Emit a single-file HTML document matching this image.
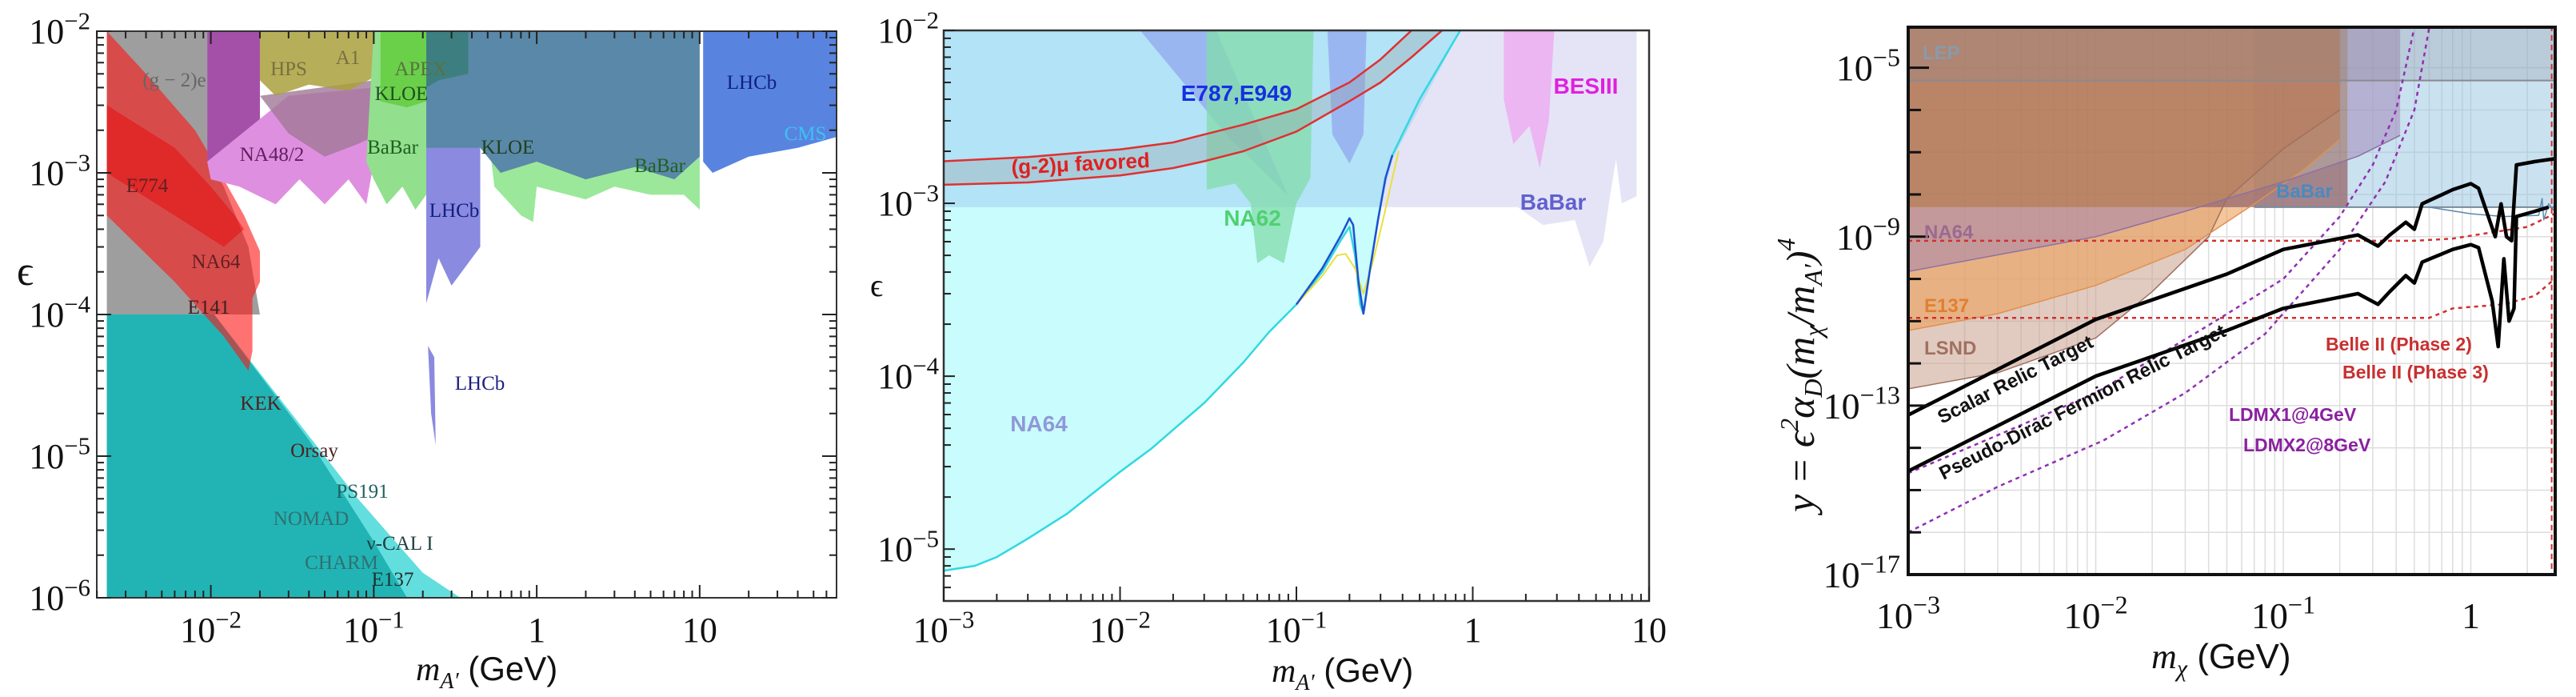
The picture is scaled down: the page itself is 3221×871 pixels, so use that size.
<!DOCTYPE html>
<html><head><meta charset="utf-8">
<style>
html,body{margin:0;padding:0;background:#fff;}
svg{display:block;}
.serif{font-family:"Liberation Serif",serif;}
.sans{font-family:"Liberation Sans",sans-serif;}
</style></head>
<body>
<svg id="fig" width="3221" height="871" viewBox="0 0 3221 871" xmlns="http://www.w3.org/2000/svg">
<g id="p1"></g>
<g id="p2"></g>
<g id="p3"></g>
</svg>
<script>
// ---------- Panel 1 data (mass GeV, epsilon) ----------
const p1Gray = [[0.0023,1e-2],[0.0095,1e-2],[0.0095,1.3e-3],[0.012,8e-4],[0.017,3e-4],[0.02,1e-4],[0.0023,1e-4]];
const p1Teal = [[0.0023,1e-4],[0.0105,1e-4],[0.04,1.3e-5],[0.1,2.5e-6],[0.16,1e-6],[0.0023,1e-6]];
const p1Cyan = [[0.0023,1e-4],[0.0105,1e-4],[0.08,5e-6],[0.2,1.5e-6],[0.34,1e-6],[0.0023,1e-6]];
const p1Red = [[0.0023,1e-2],[0.004,5e-3],[0.008,2e-3],[0.012,9e-4],[0.016,5e-4],[0.02,2.8e-4],[0.02,1.7e-4],[0.018,1.3e-4],[0.018,5.5e-5],[0.017,4e-5],[0.012,7e-5],[0.006,1.7e-4],[0.0023,5e-4]];
const p1RedDark = [[0.0023,3e-3],[0.006,1.5e-3],[0.01,8e-4],[0.014,5e-4],[0.016,4e-4],[0.012,3e-4],[0.006,5e-4],[0.0023,1e-3]];
const p1Purple = [[0.0095,1e-2],[0.02,1e-2],[0.02,2e-3],[0.0095,1.2e-3]];
const p1Pink = [[0.0095,1.2e-3],[0.03,3.5e-3],[0.1,4e-3],[0.12,2e-3],[0.1,1.2e-3],[0.09,6e-4],[0.07,9e-4],[0.05,6e-4],[0.035,9e-4],[0.025,6e-4],[0.015,8e-4],[0.01,9e-4]];
const p1Mauve = [[0.02,3.5e-3],[0.1,4.5e-3],[0.12,2e-3],[0.08,1.6e-3],[0.05,1.3e-3],[0.03,1.9e-3]];
const p1Olive = [[0.02,1e-2],[0.11,1e-2],[0.11,5e-3],[0.07,3.8e-3],[0.04,4.2e-3],[0.025,3.5e-3],[0.02,4.5e-3]];
const p1Green = [[0.1,1e-2],[0.21,1e-2],[0.21,7e-4],[0.18,5.5e-4],[0.15,8e-4],[0.12,6e-4],[0.1,9e-4],[0.09,1.2e-3]];
const p1GreenDark = [[0.11,1e-2],[0.21,1e-2],[0.21,3.2e-3],[0.16,2.9e-3],[0.11,3.2e-3]];
const p1SteelA = [[0.21,1e-2],[10,1e-2],[10,1.3e-3],[7,9e-4],[4,1.1e-3],[2,9e-4],[1,1.2e-3],[0.6,1e-3],[0.45,1.5e-3],[0.21,1.4e-3]];
const p1GreenFringe = [[0.5,2e-3],[1,1.5e-3],[3,1.3e-3],[10,1.3e-3],[10,5.5e-4],[8,7e-4],[5,7e-4],[3,8e-4],[2,6.5e-4],[1,8e-4],[0.95,4.5e-4],[0.8,5e-4],[0.55,8e-4]];
const p1Lhcb = [[0.21,1.5e-3],[0.45,1.5e-3],[0.45,3e-4],[0.3,1.6e-4],[0.25,2.5e-4],[0.21,1.2e-4]];
const p1LhcbIsland = [[0.215,6e-5],[0.235,5e-5],[0.24,1.2e-5],[0.225,2e-5]];
const p1LhcbHi = [[10.5,1e-2],[70,1e-2],[70,1.8e-3],[40,1.5e-3],[20,1.3e-3],[12,1e-3],[10.5,1.2e-3]];
const p1KloeTeal = [[0.21,1e-2],[0.38,1e-2],[0.38,5e-3],[0.25,4.5e-3],[0.21,4e-3]];
// ---------- Panel 2 data ----------
const p2Na64 = [[1e-3,7.5e-6],[1.5e-3,8e-6],[2e-3,9e-6],[3e-3,1.15e-5],[5e-3,1.6e-5],[7e-3,2.1e-5],[1e-2,2.8e-5],[1.5e-2,3.8e-5],[2e-2,4.9e-5],[3e-2,7e-5],[5e-2,1.2e-4],[7e-2,1.8e-4],[0.1,2.6e-4],[0.14,4e-4],[0.18,6.2e-4],[0.2,7.3e-4],[0.215,5e-4],[0.23,2.6e-4],[0.24,2.3e-4],[0.26,4e-4],[0.29,8e-4],[0.32,1.4e-3],[0.35,1.9e-3],[0.5,4e-3],[0.85,1e-2],[1e-3,1e-2]];
const p2Lav = [[0.3,1e-2],[8.5,1e-2],[8.5,1.1e-3],[7,1e-3],[6.5,1.8e-3],[6,1.1e-3],[5.5,6e-4],[4.6,4.3e-4],[3.8,8e-4],[2.5,7.5e-4],[1.8,9.5e-4],[0.3,9.5e-4]];
const p2Blue = [[1e-3,1e-2],[0.85,1e-2],[0.35,1.8e-3],[0.3,9.5e-4],[1e-3,9.5e-4]];
const p2E787a = [[0.013,1e-2],[0.035,1e-2],[0.09,1.1e-3],[0.04,2.5e-3]];
const p2E787b = [[0.15,1e-2],[0.25,1e-2],[0.24,2.5e-3],[0.2,1.7e-3],[0.16,2.5e-3]];
const p2Na62 = [[0.031,1e-2],[0.125,1e-2],[0.12,1.4e-3],[0.1,1e-3],[0.085,4.5e-4],[0.07,5e-4],[0.06,4.5e-4],[0.055,1e-3],[0.045,1.3e-3],[0.031,1.2e-3]];
const p2Bes = [[1.5,1e-2],[2.9,1e-2],[2.7,3e-3],[2.4,1.6e-3],[2.1,2.8e-3],[1.9,2.5e-3],[1.7,2.2e-3],[1.5,4e-3]];
const p2G2Upper = [[1e-3,1.75e-3],[3e-3,1.85e-3],[1e-2,2.05e-3],[2e-2,2.25e-3],[3e-2,2.5e-3],[5e-2,2.85e-3],[0.1,3.5e-3],[0.2,5e-3],[0.3,6.8e-3],[0.45,1e-2]];
const p2G2Lower = [[1e-3,1.28e-3],[3e-3,1.32e-3],[1e-2,1.45e-3],[2e-2,1.6e-3],[3e-2,1.75e-3],[5e-2,2e-3],[0.1,2.6e-3],[0.2,3.9e-3],[0.3,5e-3],[0.45,7e-3],[0.67,1e-2]];
const p2CurveBlue = [[0.1,2.6e-4],[0.14,4.2e-4],[0.18,6.6e-4],[0.2,8.2e-4],[0.21,7.5e-4],[0.225,3.5e-4],[0.24,2.3e-4],[0.26,4e-4],[0.29,8e-4],[0.32,1.4e-3],[0.35,1.9e-3]];
const p2CurveYellow = [[0.1,2.6e-4],[0.14,3.8e-4],[0.17,5e-4],[0.19,5.1e-4],[0.215,4.2e-4],[0.24,3e-4],[0.27,4.5e-4],[0.31,8e-4],[0.35,1.4e-3],[0.38,2e-3]];
// ---------- Panel 3 data (m_chi GeV, y) ----------
const p3Brown = [[1e-3,9e-5],[0.22,9e-5],[0.22,5e-9],[1e-3,5e-9]];
const p3Na64 = [[1e-3,1.5e-10],[0.01,1e-9],[0.03,4e-9],[0.1,2e-8],[0.25,8e-8],[0.42,2.5e-7],[0.42,9e-5],[0.22,9e-5],[0.22,5e-9],[1e-3,5e-9]];
const p3E137 = [[1e-3,6e-12],[3e-3,1.5e-11],[0.01,7e-11],[0.03,5e-10],[0.07,6e-9],[0.13,4e-8],[0.2,2e-7],[0.2,9e-5],[1e-3,9e-5]];
const p3Lsnd = [[1e-3,2.5e-13],[3e-3,6e-13],[0.01,4e-12],[0.02,5e-11],[0.04,1e-9],[0.05,8e-9],[0.1,1.2e-7],[0.2,1e-6],[0.2,9e-5],[1e-3,9e-5]];
const p3Babar = [[0.07,5e-9],[2.8,5e-9],[2.8,9e-5],[0.07,9e-5]];
const p3BabarEdge = [[0.6,5e-9],[1,3.5e-9],[1.5,3e-9],[2.3,3.2e-9],[2.4,8e-9],[2.45,2.5e-9],[2.6,6e-9],[2.8,4e-9]];
const p3Scalar = [[1e-3,6e-14],[0.01,1.1e-11],[0.05,1.3e-10],[0.1,5e-10],[0.25,1.1e-9],[0.32,6e-10],[0.37,1.1e-9],[0.45,2.2e-9],[0.5,1.5e-9],[0.55,6e-9],[0.8,1.3e-8],[1,1.8e-8],[1.1,1.4e-8],[1.35,1e-9],[1.45,6e-9],[1.55,1e-9],[1.65,8e-10],[1.75,5e-8],[2.2,6e-8],[2.8,7e-8]];
const p3Dirac = [[1e-3,2.8e-15],[0.01,5e-13],[0.05,6e-12],[0.1,2e-11],[0.25,4.5e-11],[0.32,2.5e-11],[0.37,5e-11],[0.45,1.2e-10],[0.5,8e-11],[0.55,2.5e-10],[0.8,5e-10],[1,6.5e-10],[1.1,5.5e-10],[1.3,3e-11],[1.4,2.5e-12],[1.5,3e-10],[1.6,1e-11],[1.7,2e-11],[1.75,3e-9],[2.2,4e-9],[2.6,5e-9]];
const p3Belle2 = [[1e-3,8e-10],[0.5,8e-10],[0.8,9e-10],[1.2,1.2e-9],[2,1.7e-9],[2.8,3.5e-9]];
const p3Belle3 = [[1e-3,1.2e-11],[0.6,1.2e-11],[0.8,2e-11],[1.5,2.5e-11],[2.2,4e-11],[2.8,1e-10]];
const p3Ldmx1 = [[1e-3,2.5e-15],[3e-3,2e-14],[0.01,2e-13],[0.04,8e-12],[0.1,1e-10],[0.2,3e-9],[0.3,5e-8],[0.4,1e-6],[0.5,9e-5]];
const p3Ldmx2 = [[1e-3,1e-16],[3e-3,1.2e-15],[0.011,1.5e-14],[0.03,2e-13],[0.08,5e-12],[0.2,5e-10],[0.35,2e-8],[0.5,1e-6],[0.6,9e-5]];
// tick label arrays
const p1XTicks = [0.01,0.1,1,10];
const p1YTicks = [1e-2,1e-3,1e-4,1e-5,1e-6];
const p2XTicks = [1e-3,1e-2,1e-1,1,10];
const p2YTicks = [1e-2,1e-3,1e-4,1e-5];
const p3XTicks = [1e-3,1e-2,1e-1,1];
const p3YTicks = [1e-5,1e-9,1e-13,1e-17];

const NS="http://www.w3.org/2000/svg";
function mk(parent,tag,attrs){const e=document.createElementNS(NS,tag);for(const k in attrs)e.setAttribute(k,attrs[k]);parent.appendChild(e);return e;}
function scale(lx0,lx1,px0,px1,ly0,ly1,py0,py1){
  return {x:v=>px0+(Math.log10(v)-lx0)/(lx1-lx0)*(px1-px0), y:v=>py0+(Math.log10(v)-ly0)/(ly1-ly0)*(py1-py0), px0,px1,py0,py1};
}
const S1=scale(-2.7,1.84,121,1046,-6,-2,747,39);
const S2=scale(-3,1,1180,2062,-5.3,-2,751,38);
const S3=scale(-3,0.45,2386,3195,-17,-4.04,718,34);
function pts(S,arr){return arr.map(p=>S.x(p[0]).toFixed(1)+","+S.y(p[1]).toFixed(1)).join(" ");}
function poly(g,S,arr,fill,name){const e=mk(g,"polygon",{points:pts(S,arr),fill:fill});


return e;}
function line(g,S,arr,stroke,w,name,dash){const a={points:pts(S,arr),fill:"none",stroke:stroke,"stroke-width":w,"stroke-linejoin":"round"};if(dash)a["stroke-dasharray"]=dash;const e=mk(g,"polyline",a);


return e;}
function text(g,x,y,str,size,fill,cls,name,extra){const e=mk(g,"text",Object.assign({x:x,y:y,"font-size":size,fill:fill,class:cls},extra||{}));e.textContent=str;


return e;}
function powLabel(g,x,y,exp,size,anchor,name){
  const e=mk(g,"text",{x:x,y:y,"font-size":size,fill:"#111",class:"serif","text-anchor":anchor});
  
  
  if(exp===0){e.textContent="1";return e;}
  if(exp===1){e.textContent="10";return e;}
  const b=mk(e,"tspan",{});b.textContent="10";
  const s=mk(e,"tspan",{dy:-size*0.4,"font-size":size*0.7});s.textContent="\u2212"+(-exp);
  return e;
}
function frame(g,S){
  const clipId="c"+Math.round(S.px0);
  const cp=mk(g,"clipPath",{id:clipId});mk(cp,"rect",{x:S.px0,y:S.py1,width:S.px1-S.px0,height:S.py0-S.py1});
  return clipId;
}
function logTicks(g,S,axis,lo,hi,len,minLen,both){
  for(let d=Math.floor(lo);d<=Math.ceil(hi);d++){
    for(let m=1;m<10;m++){
      const v=m*Math.pow(10,d);const lv=Math.log10(v);
      if(lv<lo-1e-9||lv>hi+1e-9)continue;
      const L=m===1?len:minLen;
      if(axis==="x"){const x=S.x(v);
        mk(g,"line",{x1:x,y1:S.py0,x2:x,y2:S.py0-L,stroke:"#222","stroke-width":2});
        if(both)mk(g,"line",{x1:x,y1:S.py1,x2:x,y2:S.py1+L,stroke:"#222","stroke-width":2});
      }else{const y=S.y(v);
        mk(g,"line",{x1:S.px0,y1:y,x2:S.px0+L,y2:y,stroke:"#222","stroke-width":2});
        if(both)mk(g,"line",{x1:S.px1,y1:y,x2:S.px1-L,y2:y,stroke:"#222","stroke-width":2});
      }
    }
  }
}

// ================= PANEL 1 =================
(function(){
  const g=document.getElementById("p1");
  const cid=frame(g,S1);
  const r=mk(g,"g",{"clip-path":"url(#"+cid+")"});
  poly(r,S1,p1Cyan,"#63dede","beam-dump-light-region");
  poly(r,S1,p1Teal,"#22b4b4","beam-dump-region");
  poly(r,S1,p1Gray,"rgba(125,125,125,0.75)","g2e-region");
  poly(r,S1,p1Red,"rgba(255,20,20,0.6)","na64-e774-e141-region");
  poly(r,S1,p1RedDark,"rgba(235,0,0,0.45)","e774-core-region");
  poly(r,S1,p1Purple,"#a550a8","na48-dark-region");
  poly(r,S1,p1Pink,"#df8fe0","na48-region");
  poly(r,S1,p1Mauve,"rgba(160,120,150,0.8)","hps-lower-region");
  poly(r,S1,p1Olive,"rgba(170,160,60,0.85)","hps-a1-region");
  poly(r,S1,p1Green,"#92e08e","babar-low-region");
  poly(r,S1,p1GreenDark,"#6ad04a","kloe-region");
  poly(r,S1,p1GreenFringe,"#9be89b","babar-fringe-region");
  poly(r,S1,p1SteelA,"#5a88a8","babar-high-region");
  poly(r,S1,p1KloeTeal,"#3d7f80","apex-kloe-region");
  poly(r,S1,p1Lhcb,"#8a8ae0","lhcb-low-region");
  poly(r,S1,p1LhcbIsland,"#8a8ae0","lhcb-island-region");
  poly(r,S1,p1LhcbHi,"#5884e0","lhcb-high-region");
  mk(g,"rect",{x:S1.px0,y:S1.py1,width:S1.px1-S1.px0,height:S1.py0-S1.py1,fill:"none",stroke:"#333","stroke-width":2});
  logTicks(g,S1,"x",-2.7,1.84,16,9,true);
  logTicks(g,S1,"y",-6,-2,18,9,true);
  p1XTicks.forEach(v=>{const e=Math.round(Math.log10(v));powLabel(g,S1.x(v),802,e,44,"middle","x-tick-label");});
  p1YTicks.forEach(v=>{powLabel(g,S1.px0-8,S1.y(v)+15,Math.round(Math.log10(v)),44,"end","y-tick-label");});
  text(g,21,356,"\u03f5",52,"#111","serif","y-axis-title");
  const xl=text(g,520,850,"",42,"#111","sans","x-axis-title");
  const t1=mk(xl,"tspan",{"font-style":"italic","font-family":"Liberation Serif"});t1.textContent="m";
  const t2=mk(xl,"tspan",{"font-size":28,dy:10,"font-style":"italic","font-family":"Liberation Serif"});t2.textContent="A\u2032";
  const t3=mk(xl,"tspan",{dy:-10});t3.textContent=" (GeV)";
  const L=[["(g \u2212 2)e",218,108,"#666"],["HPS",361,94,"#777040"],["A1",435,80,"#777040"],["APEX",526,94,"#5a7040"],["KLOE",502,125,"#205020"],["NA48/2",340,201,"#602060"],["BaBar",491,192,"#206020"],["KLOE",635,192,"#204020"],["BaBar",825,215,"#206020"],["LHCb",940,111,"#102080"],["CMS",1007,175,"#40c0f0"],["E774",184,240,"#602020"],["LHCb",568,271,"#102080"],["NA64",270,335,"#602020"],["E141",261,392,"#402020"],["LHCb",600,487,"#202080"],["KEK",326,512,"#502020"],["Orsay",393,571,"#502020"],["PS191",453,622,"#206060"],["NOMAD",389,656,"#307070"],["\u03bd-CAL I",500,687,"#204040"],["CHARM",427,711,"#307070"],["E137",491,732,"#203030"]];
  L.forEach(l=>text(g,l[1],l[2],l[0],25,l[3],"serif","region-label-"+l[0].toLowerCase().replace(/[^a-z0-9]/g,""),{"text-anchor":"middle"}));
})();

// ================= PANEL 2 =================
(function(){
  const g=document.getElementById("p2");
  const cid=frame(g,S2);
  const r=mk(g,"g",{"clip-path":"url(#"+cid+")"});
  poly(r,S2,p2Lav,"#e4e4f6","babar-region");
  poly(r,S2,p2Na64,"#c8fcfd","na64-region");
  poly(r,S2,p2Blue,"rgba(160,205,240,0.55)","upper-band-region");
  poly(r,S2,p2Bes,"#ecb6f2","besiii-region");
  poly(r,S2,p2E787a,"#9ab6f0","e787-region");
  poly(r,S2,p2E787b,"#9ab6f0","e787-blob-region");
  poly(r,S2,p2Na62,"rgba(130,220,170,0.75)","na62-region");
  const band=p2G2Upper.concat(p2G2Lower.slice().reverse());
  poly(r,S2,band,"rgba(150,160,165,0.35)","g2mu-band");
  line(r,S2,p2G2Upper,"#e03030",2.5,"g2mu-upper-line");
  line(r,S2,p2G2Lower,"#e03030",2.5,"g2mu-lower-line");
  line(r,S2,p2Na64.slice(0,p2Na64.length-1),"#30d8e0",2.5,"na64-boundary-line");
  line(r,S2,p2CurveYellow,"#e8e040",2,"projection-yellow-line");
  line(r,S2,p2CurveBlue,"#2050d0",2.5,"projection-blue-line");
  mk(g,"rect",{x:S2.px0,y:S2.py1,width:S2.px1-S2.px0,height:S2.py0-S2.py1,fill:"none",stroke:"#333","stroke-width":2.5});
  logTicks(g,S2,"x",-3,1,18,9,false);
  logTicks(g,S2,"y",-5.3,-2,14,9,false);
  p2XTicks.forEach(v=>powLabel(g,S2.x(v),802,Math.round(Math.log10(v)),44,"middle","x-tick-label"));
  p2YTicks.forEach(v=>powLabel(g,S2.px0-6,S2.y(v)+15,Math.round(Math.log10(v)),44,"end","y-tick-label"));
  text(g,1088,370,"\u03f5",40,"#111","serif","y-axis-title");
  const xl=text(g,1590,852,"",42,"#111","sans","x-axis-title");
  const t1=mk(xl,"tspan",{"font-style":"italic","font-family":"Liberation Serif"});t1.textContent="m";
  const t2=mk(xl,"tspan",{"font-size":28,dy:10,"font-style":"italic","font-family":"Liberation Serif"});t2.textContent="A\u2032";
  const t3=mk(xl,"tspan",{dy:-10});t3.textContent=" (GeV)";
  text(g,1546,126,"E787,E949",28,"#1530e0","sans","e787-label",{"font-weight":"bold","text-anchor":"middle"});
  text(g,1983,117,"BESIII",28,"#e020e0","sans","besiii-label",{"font-weight":"bold","text-anchor":"middle"});
  text(g,1265,218,"(g-2)\u03bc favored",26,"#e02020","sans","g2mu-label",{"font-weight":"bold",transform:"rotate(-3 1265 218)"});
  text(g,1566,282,"NA62",28,"#50d070","sans","na62-label",{"font-weight":"bold","text-anchor":"middle"});
  text(g,1942,262,"BaBar",28,"#6060d0","sans","babar-label",{"font-weight":"bold","text-anchor":"middle"});
  text(g,1299,539,"NA64",28,"#9098d8","sans","na64-label",{"font-weight":"bold","text-anchor":"middle"});
})();

// ================= PANEL 3 =================
(function(){
  const g=document.getElementById("p3");
  const cid=frame(g,S3);
  const r=mk(g,"g",{"clip-path":"url(#"+cid+")"});
  mk(r,"rect",{x:S3.px0,y:S3.py1,width:S3.px1-S3.px0,height:S3.py0-S3.py1,fill:"#fff"});
  for(let d=-3;d<=0;d++)for(let m=1;m<10;m++){const v=m*Math.pow(10,d);if(Math.log10(v)>0.45)continue;const x=S3.x(v);mk(r,"line",{x1:x,y1:S3.py1,x2:x,y2:S3.py0,stroke:"#ddd","stroke-width":1.5});}
  for(let d=-17;d<=-5;d++){const y=S3.y(Math.pow(10,d));mk(r,"line",{x1:S3.px0,y1:y,x2:S3.px1,y2:y,stroke:"#ddd","stroke-width":1.5});}
  poly(r,S3,p3Babar,"rgba(150,195,225,0.5)","babar-region");
  poly(r,S3,p3Lsnd,"rgba(200,160,140,0.55)","lsnd-region");
  poly(r,S3,p3E137,"rgba(235,160,90,0.6)","e137-region");
  poly(r,S3,p3Na64,"rgba(160,130,180,0.5)","na64-region");
  poly(r,S3,p3Brown,"rgba(150,95,80,0.55)","lep-combined-region");
  mk(r,"rect",{x:S3.px0,y:S3.py1,width:S3.px1-S3.px0,height:S3.y(5e-6)-S3.py1,fill:"rgba(140,140,150,0.25)"});
  line(r,S3,[[1e-3,5e-6],[2.8,5e-6]],"#8a8a90",2,"lep-line");
  line(r,S3,[[0.07,5e-9],[2.8,5e-9]],"#7a8a9a",2,"babar-edge-line");
  line(r,S3,p3BabarEdge,"#5a8ab0",1.5,"babar-wiggle-line");
  line(r,S3,p3Lsnd.slice(0,8),"#a07060",1.5,"lsnd-line");
  line(r,S3,p3E137.slice(0,7),"#e09050",1.5,"e137-line");
  line(r,S3,p3Na64.slice(0,6),"#9070a0",1.5,"na64-line");
  line(r,S3,p3Belle2,"#d03030",2.5,"belle2-phase2-line","5,5");
  line(r,S3,p3Belle3,"#d03030",2.5,"belle2-phase3-line","5,5");
  line(r,S3,[[2.7,1e-4],[2.7,1e-17]],"#d03030",2,"belle2-edge-line","7,5");
  line(r,S3,p3Ldmx1,"#9030b0",2.5,"ldmx1-line","5,5");
  line(r,S3,p3Ldmx2,"#9030b0",2.5,"ldmx2-line","5,5");
  line(r,S3,p3Scalar,"#000",4.5,"scalar-relic-line");
  line(r,S3,p3Dirac,"#000",4.5,"pseudo-dirac-relic-line");
  mk(g,"rect",{x:S3.px0,y:S3.py1,width:S3.px1-S3.px0,height:S3.py0-S3.py1,fill:"none",stroke:"#111","stroke-width":4});
  for(let d=-17;d<=-5;d++){const y=S3.y(Math.pow(10,d));const L=(d+17)%4===0?26:16;mk(g,"line",{x1:S3.px0,y1:y,x2:S3.px0+L,y2:y,stroke:"#111","stroke-width":3});}
  p3XTicks.forEach(v=>powLabel(g,S3.x(v),785,Math.round(Math.log10(v)),46,"middle","x-tick-label"));
  p3YTicks.forEach(v=>powLabel(g,S3.px0-10,S3.y(v)+16,Math.round(Math.log10(v)),46,"end","y-tick-label"));
  const xl=text(g,2690,835,"",44,"#111","sans","x-axis-title");
  const a=mk(xl,"tspan",{"font-style":"italic","font-family":"Liberation Serif"});a.textContent="m";
  const b=mk(xl,"tspan",{"font-size":30,dy:10,"font-style":"italic","font-family":"Liberation Serif"});b.textContent="\u03c7";
  const c=mk(xl,"tspan",{dy:-10});c.textContent=" (GeV)";
  const yl=text(g,0,0,"",50,"#111","serif","y-axis-title",{transform:"translate(2268,640) rotate(-90)","font-style":"italic"});
  const y1=mk(yl,"tspan",{});y1.textContent="y = \u03f5";
  const y2=mk(yl,"tspan",{"font-size":32,dy:-20});y2.textContent="2";
  const y3=mk(yl,"tspan",{dy:20});y3.textContent="\u03b1";
  const y4=mk(yl,"tspan",{"font-size":32,dy:10});y4.textContent="D";
  const y5=mk(yl,"tspan",{dy:-10});y5.textContent="(m";
  const y6=mk(yl,"tspan",{"font-size":32,dy:10});y6.textContent="\u03c7";
  const y7=mk(yl,"tspan",{dy:-10});y7.textContent="/m";
  const y8=mk(yl,"tspan",{"font-size":32,dy:10});y8.textContent="A\u2032";
  const y9=mk(yl,"tspan",{dy:-10});y9.textContent=")";
  const y10=mk(yl,"tspan",{"font-size":32,dy:-24});y10.textContent="4";
  const B={"font-weight":"bold"};
  text(g,2404,74,"LEP",24,"#8a9aaa","sans","lep-label",B);
  text(g,2846,247,"BaBar",24,"#4a8ac0","sans","babar-label",B);
  text(g,2406,298,"NA64",24,"#9a6a90","sans","na64-label",B);
  text(g,2406,390,"E137",24,"#e08030","sans","e137-label",B);
  text(g,2406,443,"LSND",24,"#a07060","sans","lsnd-label",B);
  text(g,2428,530,"Scalar Relic Target",24,"#111","sans","scalar-relic-label",Object.assign({transform:"rotate(-27 2428 530)"},B));
  text(g,2430,600,"Pseudo-Dirac Fermion Relic Target",24,"#111","sans","pseudo-dirac-relic-label",Object.assign({transform:"rotate(-27 2430 600)"},B));
  text(g,2908,438,"Belle II (Phase 2)",23,"#c83030","sans","belle2-phase2-label",B);
  text(g,2929,473,"Belle II (Phase 3)",23,"#c83030","sans","belle2-phase3-label",B);
  text(g,2787,526,"LDMX1@4GeV",23,"#8a20a0","sans","ldmx1-label",B);
  text(g,2805,564,"LDMX2@8GeV",23,"#8a20a0","sans","ldmx2-label",B);
})();
</script>
</body></html>
